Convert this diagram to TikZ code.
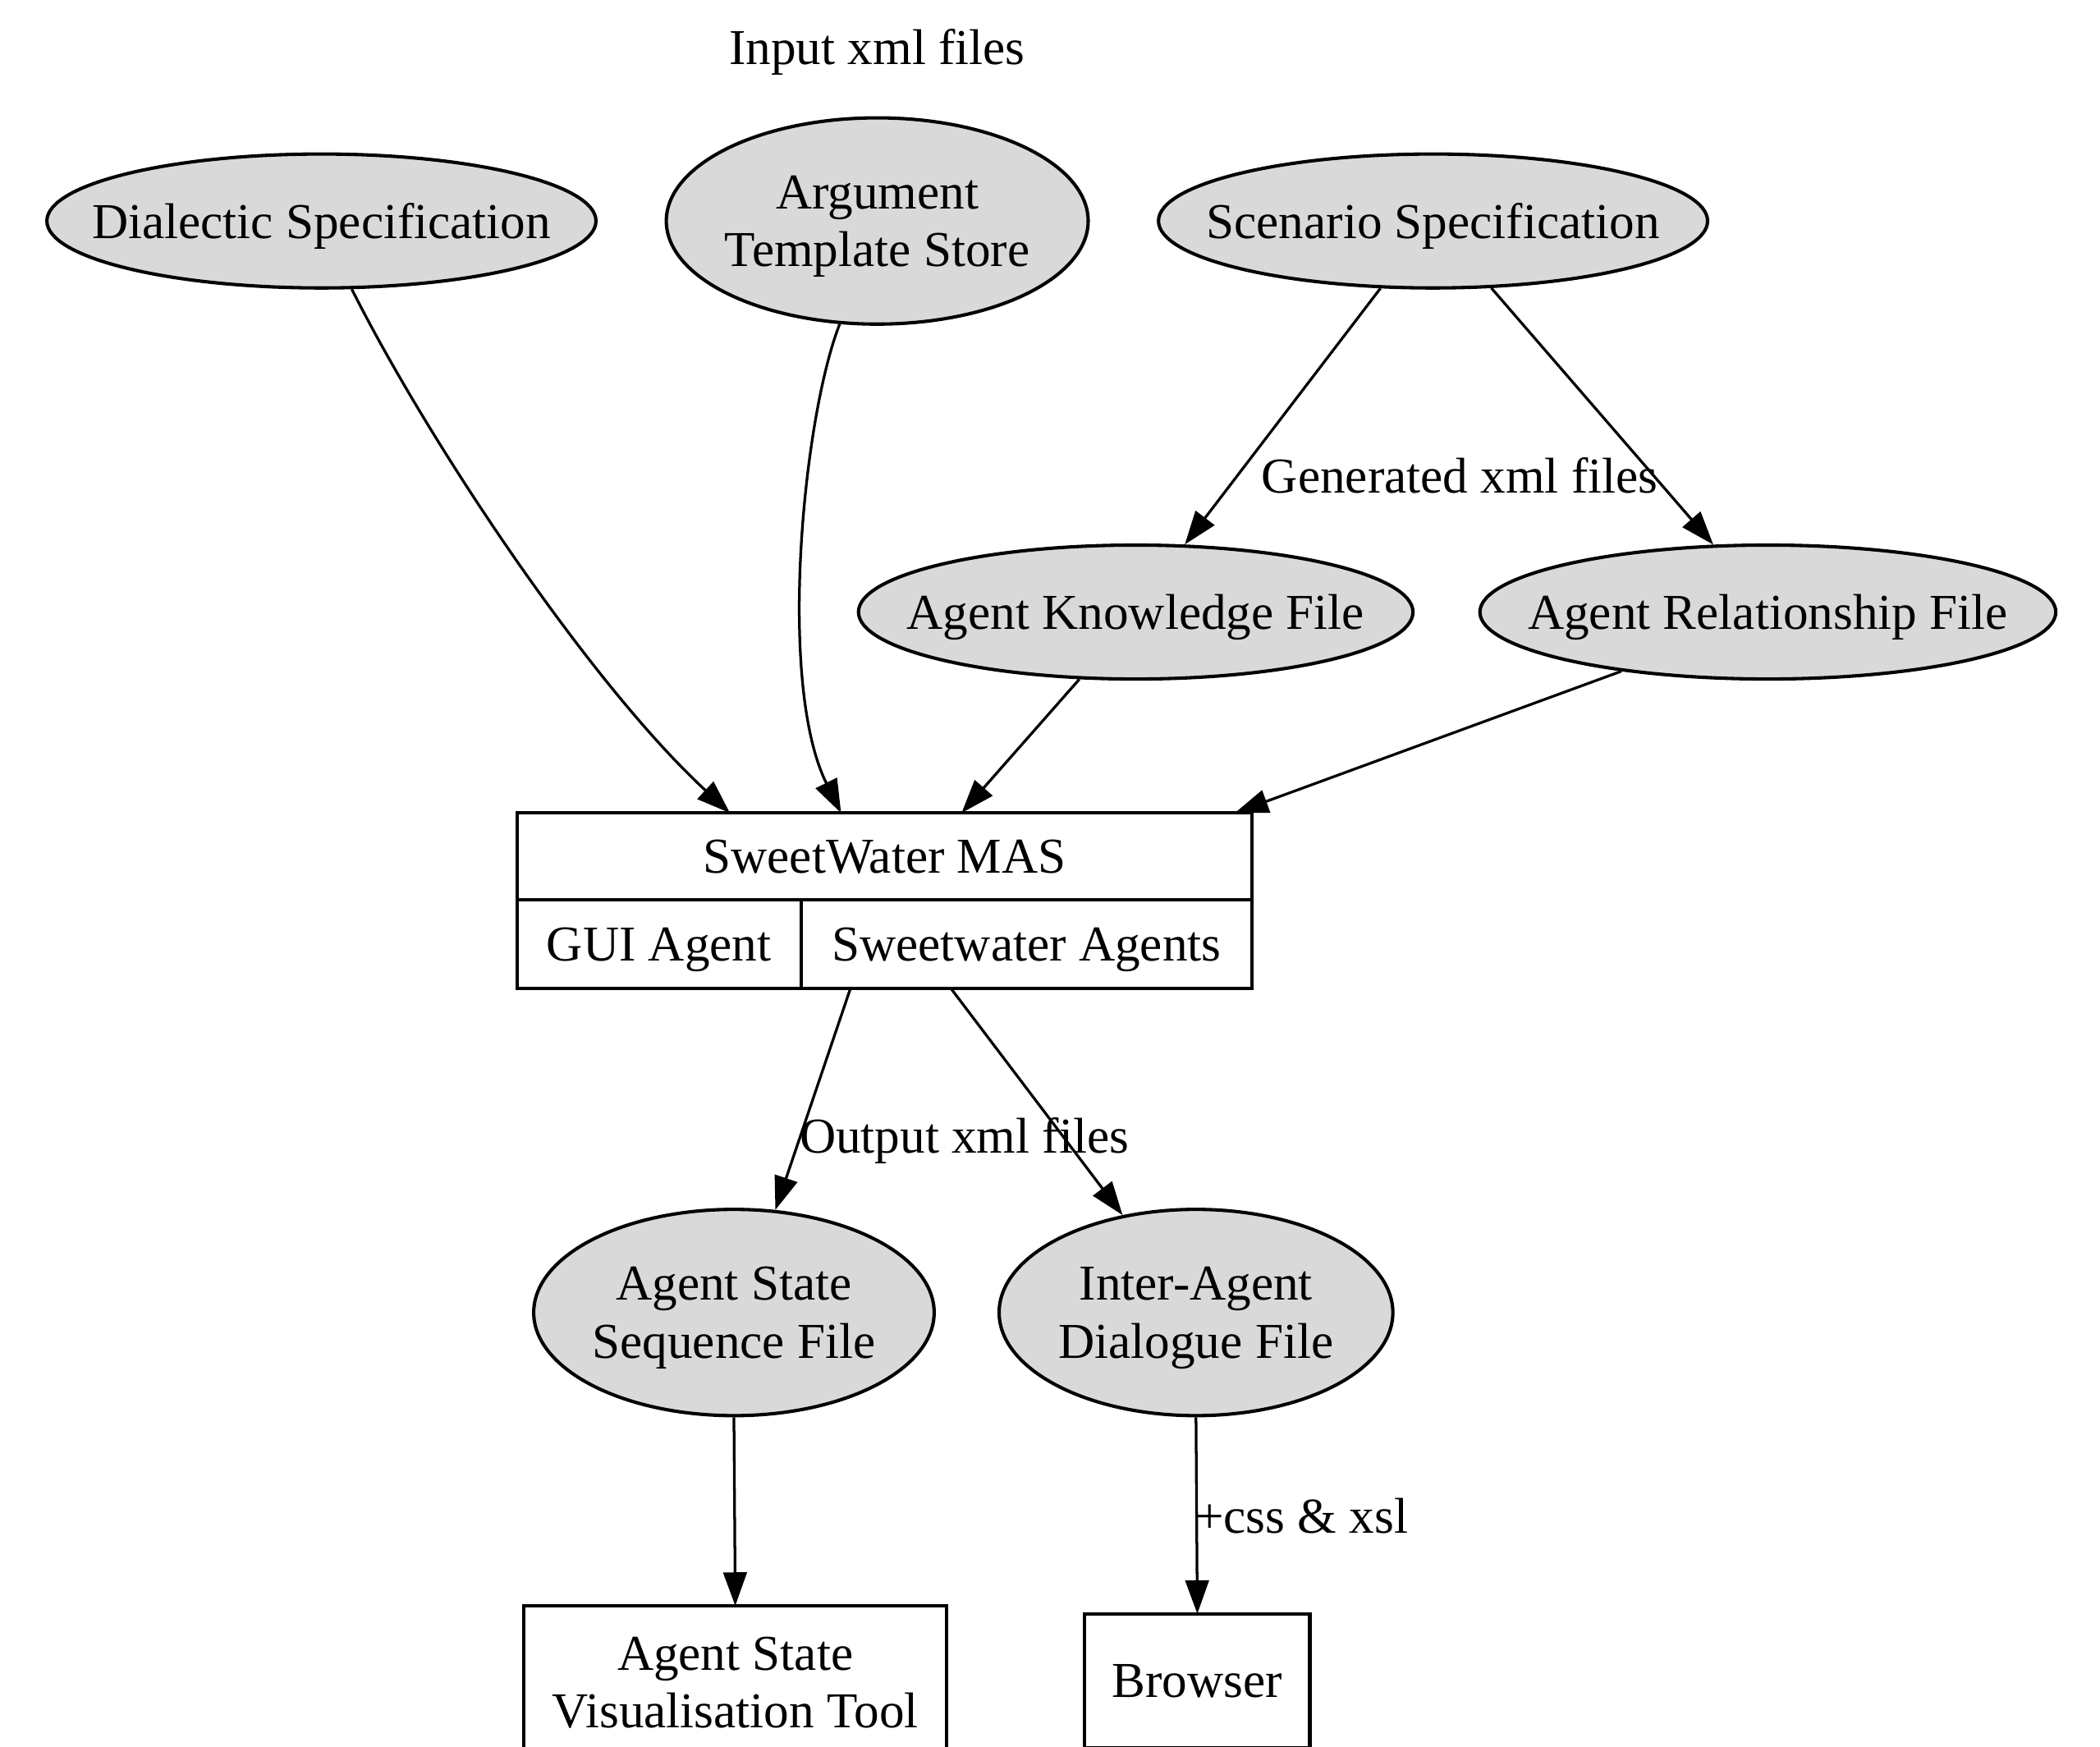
\documentclass[tikz,border=0pt]{standalone}
\usepackage{fontspec}
\setmainfont{Liberation Serif}
\usetikzlibrary{arrows.meta,shapes.geometric}
\definecolor{filegray}{RGB}{217,217,217}

\begin{document}
\begin{tikzpicture}[
	x=0.4pt, y=-0.4pt,
	every node/.style={
		font=\fontsize{15pt}{17.2pt}\selectfont,
		inner sep=0pt, text depth=0pt,
		align=center
	},
	file/.style={ellipse, draw, fill=filegray, line width=1pt, inner xsep=-40pt, inner ysep=-12pt},
	tool/.style={rectangle, draw, line width=1pt, outer sep=0pt},
	flow/.style={-{Triangle[length=10pt,width=7pt]}, line width=0.8pt}
]
\useasboundingbox (0,0) rectangle (1568,1304);
\clip (0,0) rectangle (1568,1304);

\node (input) at (655,35) {Input xml files};
\node[file, minimum width=164pt, minimum height=40pt] (dial) at (240,165) {Dialectic Specification};
\node[file, minimum width=126pt, minimum height=61.6pt] (arg) at (655,165) {Argument\\Template Store};
\node[file, minimum width=164pt, minimum height=40pt] (scen) at (1070,165) {Scenario Specification};
\node[file, minimum width=165.6pt, minimum height=40pt] (know) at (848,457) {Agent Knowledge File};
\node[file, minimum width=172pt, minimum height=40pt] (rel) at (1320,457) {Agent Relationship File};
\node (gen) at (1090,355) {Generated xml files};

\node[tool, minimum width=219.6pt, minimum height=26pt] (mas) at (660.5,639.5) {SweetWater MAS};
\node[tool, minimum width=84.8pt, minimum height=26.4pt, anchor=north west] (gui) at (mas.south west) {GUI Agent};
\node[tool, minimum width=134.8pt, minimum height=26.4pt, anchor=north west] (sw) at (gui.north east) {Sweetwater Agents};

\node[file, minimum width=119.6pt, minimum height=61.6pt] (seq) at (548,980) {Agent State\\Sequence File};
\node[file, minimum width=117.6pt, minimum height=61.6pt] (dlg) at (893,980) {Inter-Agent\\Dialogue File};
\node (out) at (720,848) {Output xml files};

\node[tool, minimum width=126.4pt, minimum height=45.6pt] (vis) at (549,1256) {Agent State\\Visualisation Tool};
\node[tool, minimum width=67.2pt, minimum height=40pt] (browser) at (894,1255) {Browser};
\node (css) at (972,1132) {+css \& xsl};

\draw[flow] (dial.294) .. controls (320,330) and (440,510) .. ([shift={(159,0)}]mas.north west);
\draw[flow] (arg.250) .. controls (600,310) and (580,510) .. ([shift={(242,0)}]mas.north west);
\draw[flow] (scen.232) -- (know.54);
\draw[flow] (scen.311) -- (rel.129);
\draw[flow] (know.230) -- ([shift={(332,0)}]mas.north west);
\draw[flow] (rel.202) -- ([shift={(536,0)}]mas.north west);
\draw[flow] ([shift={(37,0)}]sw.south west) -- (seq.68);
\draw[flow] ([shift={(112,0)}]sw.south west) -- (dlg.127);
\draw[flow] (seq.south) -- (vis.north);
\draw[flow] (dlg.south) -- (browser.north);
\end{tikzpicture}
\end{document}
